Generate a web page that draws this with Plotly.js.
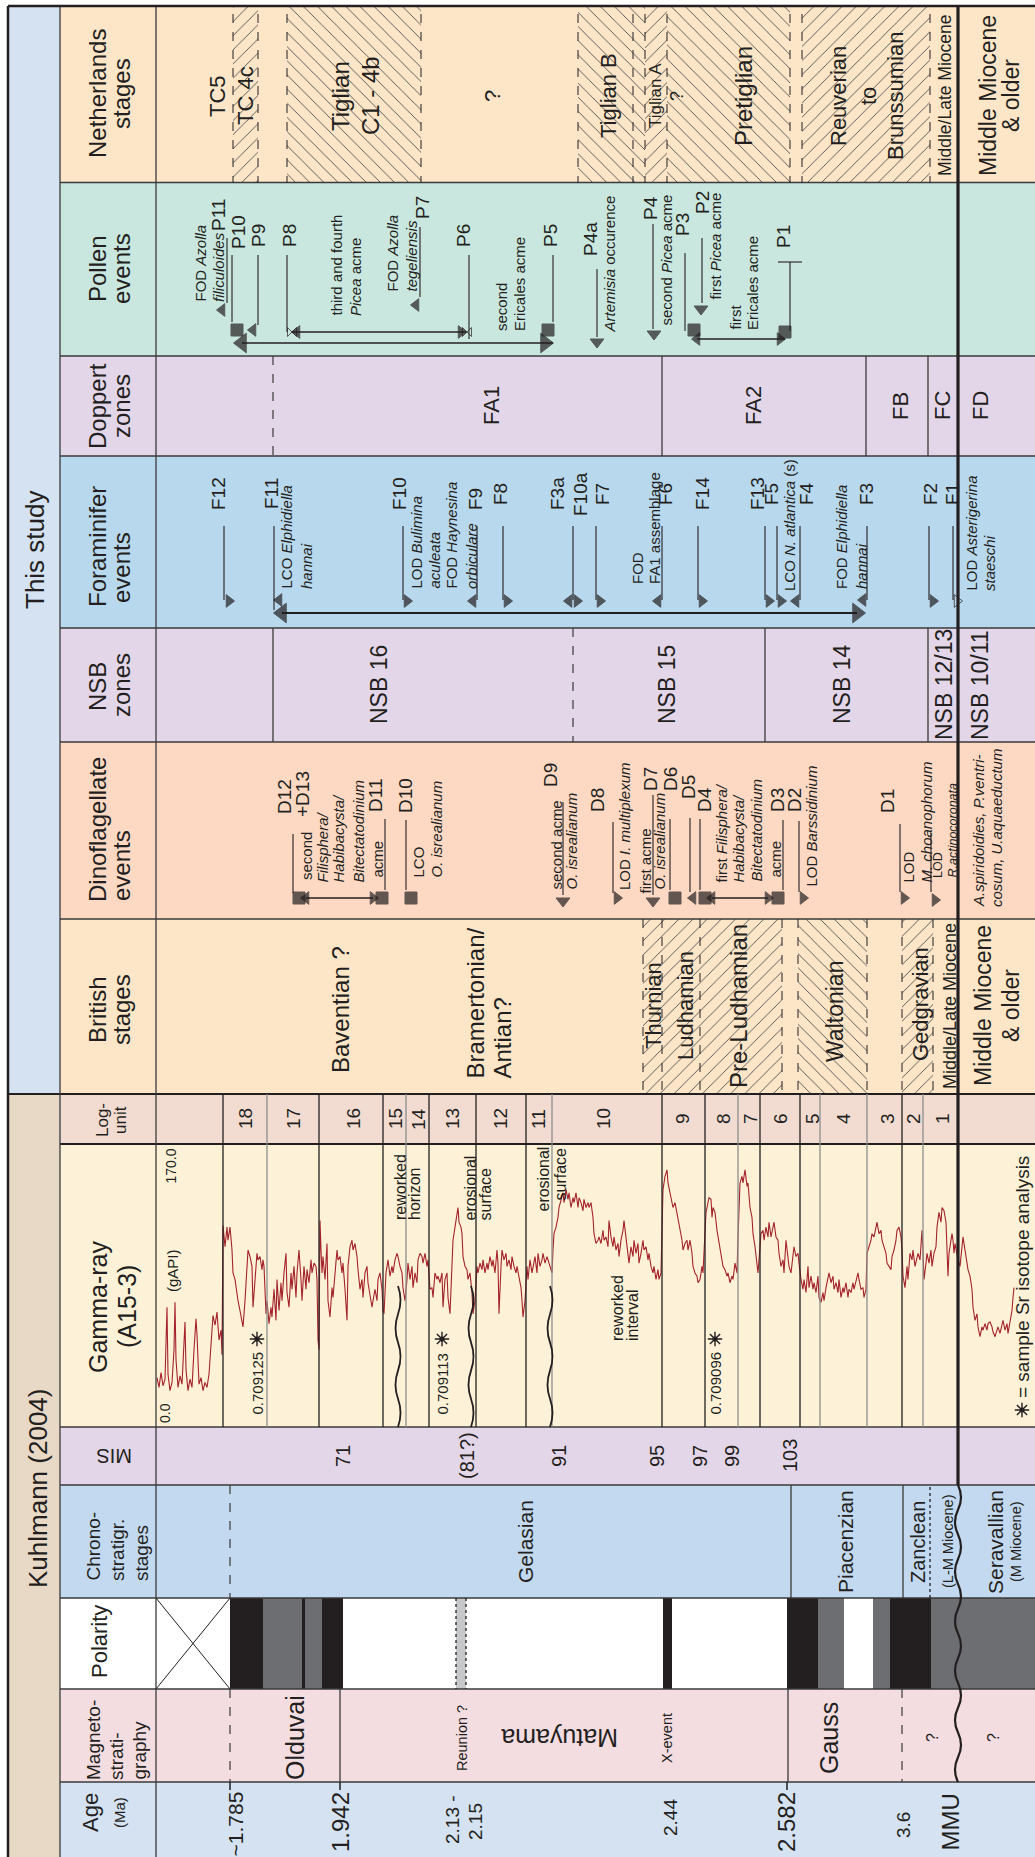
<!DOCTYPE html>
<html>
<head>
<meta charset="utf-8">
<title>Stratigraphic correlation chart</title>
<script src="https://cdn.plot.ly/plotly-3.0.1.min.js"></script>
<style>
html,body{margin:0;padding:0;background:#ffffff;}
#chart{width:1035px;height:1857px;}
</style>
</head>
<body>
<div id="chart"></div>
<script>
/* ===================== DATA ===================== */
/* Positions are along the stratigraphic axis of the section (young -> old),
   expressed in the chart's section units. */

// Netherlands stages
const nlStageText = ['TC5','TC 4c','Tiglian','C1 - 4b','?','Tiglian B','Tiglian A','?','Pretiglian','Reuverian','to','Brunssumian','Middle/Late Miocene','Middle Miocene','& older'];
const nlStagePos  = [217,245,340,370,492,608,655,677,743,838,868,895,945,988,1011];
const nlHatchFrom = [233,287,578,645,667,802];
const nlHatchTo   = [258,421,645,667,790,930];
const nlHatchDir  = ['/','\\','\\','/','\\','/'];
const nlDashed    = [233,258,287,421,578,633,645,667,790,802,930];

// Pollen events
const pollenLabel    = ['P11','P10','P9','P8','P7','P6','P5','P4a','P4','P3','P2','P1'];
const pollenLabelPos = [218,238,258,289,422,463,550,590,650,682,702,783];
const pollenEventPos = [227,232,258,287,420,469,553,597,653,685,702,790];
const pollenText     = ['FOD <i>Azolla</i>','<i>filiculoides</i>','third and fourth','<i>Picea</i> acme','FOD <i>Azolla</i>','<i>tegeliensis</i>','second','Ericales acme','<i>Artemisia</i> occurence','second <i>Picea</i> acme','first <i>Picea</i> acme','first','Ericales acme'];
const pollenTextPos  = [200,218,336,355,392,411,501,519,609,666,715,735,752];
const pollenMarkPos  = [222,237,253,292,297,416,461,467,548,545,242,597,654,694,697,701,785,780];
const pollenMarkKind = ['tl','sq','tl','bow','tl','tl','tr','bow','sq','trB','tlB','td','td','sq','tl','td','sq','tr'];
const pollenRangeFrom = [292,242,697];
const pollenRangeTo   = [466,553,785];

// Doppert zones
const doppertLabel = ['FA1','FA2','FB','FC','FD'];
const doppertPos   = [491,753,900,942,980];
const doppertSolid = [662,866,928];
const doppertDash  = [273];

// Foraminifer events
const foramLabel    = ['F12','F11','F10','F9','F8','F3a','F10a','F7','F6','F14','F13','F5','F4','F3','F2','F1'];
const foramLabelPos = [218,271,399,475,500,557,580,602,665,702,757,771,806,866,930,952];
const foramEventPos = [224,274,403,477,503,573,596,662,698,765,777,800,867,929,953];
const foramText     = ['LCO <i>Elphidiella</i>','<i>hannai</i>','LOD <i>Bulimina</i>','<i>aculeata</i>','FOD <i>Haynesina</i>','<i>orbiculare</i>','FOD','FA1 assemblage','LCO <i>N. atlantica</i> (s)','FOD <i>Elphidiella</i>','<i>hannai</i>','LOD <i>Asterigerina</i>','<i>staeschi</i>'];
const foramTextPos  = [286,306,416,434,451,471,637,654,789,841,861,971,989];
const foramMarkPos  = [229,279,282,407,473,507,569,577,600,658,702,769,781,796,863,857,933,957];
const foramMarkKind = ['tr','tl','tlB','tr','tl','tr','tl','tr','tr','tl','tr','tr','tr','tl','tl','trB','tr','tro'];
const foramRangeFrom = [282];
const foramRangeTo   = [857];

// NSB zones
const nsbLabel = ['NSB 16','NSB 15','NSB 14','NSB 12/13','NSB 10/11'];
const nsbPos   = [379,667,842,944,980];
const nsbSolid = [273,765,928];
const nsbDash  = [573];

// Dinoflagellate events
const dinoLabel    = ['D12','+D13','D11','D10','D9','D8','D7','D6','D5','D4','D3','D2','D1'];
const dinoLabelPos = [284,302,375,405,550,597,650,670,688,704,777,794,887];
const dinoEventPos = [293,385,406,563,613,653,670,690,700,783,799,900,931];
const dinoText     = ['second','<i>Filisphera/</i>','<i>Habibacysta/</i>','<i>Bitectatodinium</i>','acme','LCO','<i>O. isrealianum</i>','second acme','<i>O. isrealianum</i>','LOD <i>I. multiplexum</i>','first acme','<i>O. isrealianum</i>','first <i>Filisphera/</i>','<i>Habibacysta/</i>','<i>Bitectatodinium</i>','acme','LOD <i>Barssidinium</i>','LOD','<i>M. choanophorum</i>','LOD','<i>R.actinocoronata</i>','<i>A.spiridoidies, P.ventri-</i>','<i>cosum, U.aquaeductum</i>'];
const dinoTextPos  = [306,322,338,358,377,418,436,556,571,624,645,659,721,738,756,775,811,908,926,938,952,978,996];
const dinoMarkPos  = [299,306,373,382,411,563,617,653,675,693,705,712,768,778,803,904,935];
const dinoMarkKind = ['sq','tl','tr','sq','sq','td','tr','td','sq','tl','sq','tl','tr','sq','tr','tr','tr'];
const dinoRangeFrom = [306,712];
const dinoRangeTo   = [373,768];

// British stages
const brStageText = ['Baventian ?','Bramertonian/','Antian?','Thurnian','Ludhamian','Pre-Ludhamian','Waltonian','Gedgravian','Middle/Late Miocene','Middle Miocene','& older'];
const brStagePos  = [340,475,502,653,685,738,835,920,950,983,1011];
const brHatchFrom = [643,662,700,798,902];
const brHatchTo   = [662,700,782,867,933];
const brHatchDir  = ['/','/','/','\\','/'];
const brDashed    = [643,662,700,782,798,867,902,933];

// Log-units (A15-3)
const logUnitLabel = ['18','17','16','15','14','13','12','11','10','9','8','7','6','5','4','3','2','1'];
const logUnitPos   = [245,293,353,395,418,452,500,538,603,682,723,750,780,812,843,887,913,942];
const logBoundBlack = [223,319,383,429,476,526,662,705,760,800,902];
const logBoundGrey  = [267,406,552,738,820,867,923];

// Gamma-ray log (A15-3), gAPI, position along the section
const gammaPos = [
 157,159,161,163,165,166,167,168,170,172,174,175,176,178,180,182,184,185,186,188,190,192,194,196,197,199,201,203,205,207,209,211,213,215,217,219,221,222,
 223,225,227,228,230,232,233,235,237,238,240,242,243,245,247,248,250,252,253,255,257,258,260,262,263,264,
 266,267,269,271,272,274,276,277,279,281,282,284,286,287,289,291,292,294,296,297,299,301,302,304,306,307,309,311,312,314,316,317,318,319,
 320,321,322,323,325,327,328,330,332,333,335,337,338,340,342,343,345,347,348,350,352,353,355,357,358,360,362,363,365,367,368,370,372,373,375,377,378,380,382,383,
 384,386,388,390,392,393,395,397,398,400,402,403,405,
 407,408,410,412,413,415,417,418,420,422,423,425,427,428,
 430,432,433,435,437,438,440,442,443,445,447,448,450,452,453,455,457,458,459,461,462,463,465,467,468,470,472,473,475,
 477,478,480,482,483,485,487,488,490,492,493,495,497,498,499,501,502,504,506,507,509,511,512,514,516,517,519,521,522,523,525,
 527,528,530,532,533,535,537,538,540,542,543,545,547,548,550,552,
 553,554,556,558,559,561,563,564,566,568,569,571,573,574,576,578,579,581,583,584,586,588,589,591,593,594,596,598,599,601,603,604,606,608,609,611,613,614,616,618,619,621,623,624,626,628,629,631,633,634,636,638,639,641,643,644,646,648,649,651,653,654,656,658,659,661,
 663,665,667,668,670,672,673,675,677,678,680,682,683,685,687,688,690,692,693,695,697,698,700,702,703,
 705,706,707,709,711,712,713,715,717,718,720,722,723,725,727,728,730,732,733,735,737,
 738,740,742,743,745,747,748,750,752,753,755,757,758,759,
 761,763,764,766,768,769,771,773,774,776,778,779,781,783,784,786,788,789,791,793,794,796,798,799,
 801,803,804,806,808,809,811,813,814,816,818,819,
 821,823,824,826,828,829,831,833,834,836,838,839,841,843,844,846,848,849,851,853,854,856,858,859,861,863,864,866,
 867,869,871,872,874,876,877,879,881,882,884,886,887,889,891,892,894,896,897,899,901,902,
 903,905,907,908,910,912,913,915,917,918,920,922,923,
 924,926,927,929,931,932,934,936,937,939,941,942,944,946,947,948,949,951,952,953,954,955,957,
 958,960,962,963,965,967,968,970,972,973,975,977,978,980,982,983,985,987,988,990,992,993,995,997,998,1000,1002,1003,1005,1007,1008,1010,1012,1013,1014
];
const gammaAPI = [
 29,23,32,24,28,52,72,31,21,26,46,75,40,23,30,25,49,63,34,21,28,23,46,65,55,25,29,21,26,23,31,52,67,61,69,52,58,43,
 122,109,121,113,121,107,93,89,78,76,70,64,60,76,93,107,103,97,72,89,105,101,103,95,101,97,
 68,76,62,72,66,83,64,89,70,87,76,93,105,81,72,93,83,97,78,93,107,89,76,97,83,95,87,101,93,99,97,89,52,46,
 125,107,93,103,89,111,76,66,84,78,93,107,101,103,93,99,83,64,97,109,113,107,111,103,95,83,89,78,93,97,87,78,72,76,83,76,89,93,83,70,
 68,93,101,91,97,93,101,105,103,97,93,84,76,
 89,99,89,97,84,93,87,101,105,103,99,105,97,101,
 83,84,78,93,89,91,87,93,72,89,93,78,68,97,113,121,130,133,124,121,117,103,97,95,89,93,81,68,76,
 97,93,99,95,101,93,99,95,103,97,101,93,107,99,68,97,107,101,105,97,101,95,103,97,93,97,89,84,76,66,76,
 97,89,101,93,97,103,93,105,97,101,105,99,103,101,97,93,
 107,117,121,127,133,138,142,136,144,138,142,133,139,136,142,133,139,136,131,138,133,136,133,136,127,117,111,113,115,111,119,113,115,109,125,115,109,115,107,111,103,113,119,125,113,105,99,109,103,113,105,111,99,105,113,107,109,101,105,97,93,97,89,95,89,93,
 144,152,156,148,142,138,133,136,130,125,119,113,107,111,113,107,113,105,97,93,91,87,89,97,93,
 121,130,133,139,138,127,133,130,119,115,109,101,97,95,91,93,87,91,89,99,93,
 115,148,152,148,156,146,148,133,127,117,109,97,93,101,
 117,119,113,121,115,124,115,121,124,115,113,105,97,101,93,113,103,97,93,107,109,103,105,99,
 89,83,89,81,97,84,91,83,87,81,91,78,
 75,81,76,84,89,93,87,91,83,87,81,89,78,84,81,87,78,83,81,87,83,89,93,89,83,84,78,83,
 105,109,113,117,115,121,124,117,119,113,109,105,99,97,95,103,107,113,119,121,115,107,
 91,84,97,89,105,101,107,97,103,105,101,119,107,
 89,99,105,99,107,97,105,109,121,130,124,133,131,124,101,91,105,113,117,113,105,111,103,
 101,97,107,115,107,97,95,91,83,72,64,68,60,54,60,58,62,58,62,63,60,57,54,58,60,56,62,64,58,62,56,64,70,78,84
];
const gammaScaleText = ['0.0','(gAPI)','170.0'];
const gammaNotes     = ['reworked','horizon','erosional','surface','erosional','surface','reworked','interval'];
const gammaNotesPos  = [400,414,470,485,543,560,617,632];
const erosionPos     = [398,471,550];

// Sr isotope samples
const srPos   = [257,442,715];
const srValue = ['0.709125','0.709113','0.709096'];

// Marine isotope stages
const misLabel = ['71','(81?)','91','95','97','99','103'];
const misPos   = [343,467,559,657,700,732,790];

// Chronostratigraphic stages
const chronoLabel = ['Gelasian','Piacenzian','Zanclean','(L-M Miocene)','Seravallian','(M Miocene)'];
const chronoPos   = [525,845,918,948,995,1016];
const chronoSolid = [791,903];
const chronoDash  = [230];
const chronoDot   = [930];

// Polarity (N = normal, R = reversed, U = grey interval, Q = uncertain, X = no data)
const polFrom = [156,230,263,302,305,322,343,456,466,663,672,787,818,844,873,890,931];
const polTo   = [230,263,302,305,322,343,456,466,663,672,787,818,844,873,890,931,1035];
const polType = ['X','N','U','N','U','N','R','Q','R','N','R','N','U','R','U','N','U'];

// Magnetostratigraphy
const magLabel = ['Olduvai','Reunion ?','Matuyama','X-event','Gauss','?','?'];
const magPos   = [295,462,560,667,829,932,993];
const magSolid = [340,788];
const magDash  = [230,902];

// Ages (Ma)
const ageLabel = ['~1.785','1.942','2.13 -','2.15','2.44','2.582','3.6','MMU'];
const agePos   = [235,340,452,475,670,786,903,950];
const ageTickPos = [230,340,787];

// Mid-Miocene unconformity
const mmuPos = 958;

/* ===================== LAYOUT & STYLE ===================== */
const W = 1035, H = 1857;
const FONT = 'Liberation Sans, Arial, Helvetica, sans-serif';
const NARROW = 'Liberation Sans Narrow, Liberation Sans, Arial Narrow, Arial, sans-serif';
const INK = '#231f20';
const GRID = '#3a3a3a';
const X_GROUP = 8, X_HEAD = 60, X_DATA = 156;

const ROW = {neth:[6,182.5], pollen:[182.5,356], doppert:[356,456], foram:[456,628], nsb:[628,742],
  dino:[742,919], brit:[919,1094], log:[1094,1144], gamma:[1144,1427], mis:[1427,1485],
  chrono:[1485,1598], pol:[1598,1689], mag:[1689,1782], age:[1782,H]};
const COL = {neth:'#fde6c8', pollen:'#c9e7df', doppert:'#e3d6e9', foram:'#b8d8ed', nsb:'#e3d6e9',
  dino:'#fdd9c4', brit:'#fde6c8', log:'#f2dcd1', gamma:'#fdf2d7', mis:'#e3d6e9', chrono:'#c3d9ef',
  pol:'#ffffff', mag:'#f4dde1', age:'#d4e2f2'};
const POLCOL = {N:'#231f20', U:'#6d6e71', R:'#ffffff', Q:'#c7c8ca', X:'#ffffff'};

const nlStageSize = [22,22,24,24,22,22,17,18,24,22,22,22,17.5,23,23];
const brStageSize = [24,24,24,22,22,24,23,22,18,23,23];
const brStageY    = [1010,1080,1080,1006,1006,1006,1012,1004,1006,1006,1006];
const brStageAnchor = ['middle','bottom','bottom','middle','middle','middle','middle','middle','middle','middle','middle'];

const pollenLabelY = [215,232,236,236,208,236,236,239,208,225,203,237];
const pollenLeadY1 = [238,255,255,255,227,255,255,269,224,253,238,262];
const pollenLeadY2 = [303,322,325,332,297,339,322,337,329,331,303,331];
const pollenTextBottom = [303,303,317,317,293,293,332,332,334,327,301,331,331];
const pollenMarkY = [310,330,330,332,332,305,332,332,330,343,343,342,334,330,339,309,332,339];
const pollenRangeY = [332,343,339];

const foramLabelY = [494,494,494,499,494,494,494,494,494,494,494,494,494,494,494,494];
const foramLeadY2 = [600,610,600,600,600,600,600,600,600,600,600,600,600,600,600];
const foramTextBottom = [590,590,590,590,590,590,585,585,592,590,590,592,592];
const foramMarkY = [601,600,613,601,601,601,601,601,601,601,601,601,601,601,600,613,601,601];
const foramRangeY = [613];

const dinoLabelY = [797,794,796,796,775,800,779,779,787,800,800,800,801];
const dinoLeadY1 = [834,819,820,802,822,795,819,818,819,820,821,824,833];
const dinoLeadY2 = [893,890,890,895,893,895,890,892,890,890,892,892,892];
const dinoTextBottom = [881,884,884,884,879,879,879,891,891,891,895,891,884,884,883,879,888,884,884,879,879,908,908];
const dinoTextSize = [15,15,15,15,15,15,15,15,15,15,15,15,15,15,15,15,15,15,15,12.5,12.5,15,15];
const dinoMarkY = [898,898,898,898,898,901,898,901,898,898,898,898,898,898,898,898,900];
const dinoRangeY = [898,898];

const SYM = {tl:'triangle-left', tr:'triangle-right', td:'triangle-down', sq:'square', bow:'bowtie-open',
  tlB:'triangle-left', trB:'triangle-right', tro:'triangle-right-open'};
const SYMSIZE = {tl:11, tr:11, td:12, sq:12, bow:9, tlB:17, trB:17, tro:11};

/* ===================== BUILD ===================== */
const shapes = [], annotations = [], traces = [];
const mid = r => (r[0] + r[1]) / 2;

function R(x0, y0, x1, y1, fill, layer) {
  shapes.push({type:'rect', xref:'x', yref:'y', x0, y0, x1, y1, fillcolor:fill, line:{width:0}, layer:layer || 'below'});
}
function L(x0, y0, x1, y1, color, width, dash) {
  shapes.push({type:'line', xref:'x', yref:'y', x0, y0, x1, y1, line:{color:color || GRID, width:width || 1.3, dash:dash || 'solid'}, layer:'above'});
}
function T(x, y, text, size, o) {
  o = o || {};
  annotations.push({x, y, xref:'x', yref:'y', text, showarrow:false,
    textangle: (o.angle === undefined ? -90 : o.angle),
    xanchor: o.xa || 'center', yanchor: o.ya || 'middle', align: o.align || 'center',
    borderpad: 0, font: {family: o.family || FONT, size: size, color: o.color || INK}});
}
function wavy(x, y0, y1, amp, period, width) {
  const n = Math.max(1, Math.round((y1 - y0) / (period / 2)));
  const step = (y1 - y0) / n;
  let d = 'M' + x + ',' + y0;
  for (let i = 0; i < n; i++) {
    const ya = y0 + i * step, s = (i % 2 === 0) ? 1 : -1;
    d += ' Q' + (x + s * amp * 2) + ',' + (ya + step / 2) + ' ' + x + ',' + (ya + step);
  }
  shapes.push({type:'path', xref:'x', yref:'y', path:d, line:{color:INK, width:width || 1.8}, layer:'above'});
}
const marks = {x:[], y:[], symbol:[], size:[]};
function M(x, y, kind) { marks.x.push(x); marks.y.push(y); marks.symbol.push(SYM[kind]); marks.size.push(SYMSIZE[kind]); }

function hatch(row, from, to, dirs) {
  const g = {};
  from.forEach((f, i) => {
    const d = dirs[i];
    if (!g[d]) g[d] = {x:[], base:[], y:[], w:[]};
    g[d].x.push(to[i] - f); g[d].base.push(f); g[d].y.push(mid(ROW[row])); g[d].w.push(ROW[row][1] - ROW[row][0]);
  });
  Object.keys(g).forEach(d => {
    traces.push({type:'bar', orientation:'h', x:g[d].x, base:g[d].base, y:g[d].y, width:g[d].w,
      xaxis:'x', yaxis:'y', hoverinfo:'skip', showlegend:false,
      marker:{color:COL[row], line:{width:0},
        pattern:{shape:d, fgcolor:'#4d4d4d', bgcolor:COL[row], size:10, solidity:0.09, fillmode:'replace'}}});
  });
}

// ---- background bands ----
Object.keys(ROW).forEach(k => R(X_HEAD, ROW[k][0], W, ROW[k][1], COL[k]));
R(X_GROUP, ROW.neth[0], X_HEAD, ROW.brit[1], '#d4e2f2');
R(X_GROUP, ROW.log[0], X_HEAD, H, '#e8d8c6');

// ---- polarity blocks ----
polFrom.forEach((f, i) => R(f, ROW.pol[0], polTo[i], ROW.pol[1], POLCOL[polType[i]]));

// ---- hatching ----
hatch('neth', nlHatchFrom, nlHatchTo, nlHatchDir);
hatch('brit', brHatchFrom, brHatchTo, brHatchDir);

// ---- frame and grid ----
['pollen','doppert','foram','nsb','dino','brit','gamma','mis','chrono','pol','mag','age'].forEach(k => L(X_HEAD, ROW[k][0], W, ROW[k][0], GRID, 1.3));
L(X_GROUP, ROW.log[0], W, ROW.log[0], INK, 2);
L(X_HEAD, ROW.gamma[0], W, ROW.gamma[0], INK, 1.8);
L(X_HEAD, 6, X_HEAD, H, GRID, 1.3);
L(X_DATA, 6, X_DATA, H, GRID, 1.3);
L(X_GROUP, 6, W, 6, INK, 2.5);
L(X_GROUP, 6, X_GROUP, H, INK, 2.5);

// Netherlands / British dashed stage borders
nlDashed.forEach(x => L(x, ROW.neth[0] + 8, x, ROW.neth[1], INK, 1, 'dash'));
brDashed.forEach(x => L(x, ROW.brit[0], x, ROW.brit[1] - 2, INK, 1, 'dash'));

// zone boundaries
doppertSolid.forEach(x => L(x, ROW.doppert[0], x, ROW.doppert[1], GRID, 1.3));
doppertDash.forEach(x => L(x, ROW.doppert[0], x, ROW.doppert[1], GRID, 1.2, 'dash'));
nsbSolid.forEach(x => L(x, ROW.nsb[0], x, ROW.nsb[1], GRID, 1.3));
nsbDash.forEach(x => L(x, ROW.nsb[0], x, ROW.nsb[1], GRID, 1.2, 'dash'));
logBoundBlack.forEach(x => L(x, ROW.log[0], x, ROW.gamma[1], INK, 1.3));
logBoundGrey.forEach(x => L(x, ROW.log[0], x, ROW.gamma[1], '#8d8d8d', 1.3));
chronoSolid.forEach(x => L(x, ROW.chrono[0], x, ROW.chrono[1], GRID, 1.3));
chronoDash.forEach(x => L(x, ROW.chrono[0], x, ROW.chrono[1], GRID, 1.2, 'dash'));
chronoDot.forEach(x => L(x, ROW.chrono[0] + 2, x, ROW.chrono[1], INK, 1.3, 'dot'));
magSolid.forEach(x => L(x, ROW.mag[0], x, ROW.mag[1], GRID, 1.3));
magDash.forEach(x => L(x, ROW.mag[0], x, ROW.mag[1], GRID, 1.2, 'dash'));
ageTickPos.forEach(x => L(x, ROW.age[0], x, ROW.age[0] + 8, INK, 1.5));

// polarity details
L(polFrom[0], ROW.pol[0], polTo[0], ROW.pol[1], INK, 1);
L(polFrom[0], ROW.pol[1], polTo[0], ROW.pol[0], INK, 1);
polType.forEach((t, i) => { if (t === 'Q') { L(polFrom[i], ROW.pol[0], polFrom[i], ROW.pol[1], INK, 1.3, 'dot'); L(polTo[i], ROW.pol[0], polTo[i], ROW.pol[1], INK, 1.3, 'dot'); } });

// MMU
L(mmuPos, 6, mmuPos, ROW.mis[1], INK, 3.2);
wavy(mmuPos, ROW.mis[1], ROW.mag[1], 3, 50, 2.2);

// erosional surfaces in the gamma-ray column
erosionPos.forEach(x => wavy(x, 1286, ROW.gamma[1], 2.5, 56, 1.8));

// ---- header strip ----
T(35, mid([6, ROW.brit[1]]), 'This study', 26);
T(38, 1489, 'Kuhlmann (2004)', 26);
const HEAD = [
  ['Netherlands',97,94,24,'middle'], ['stages',121,94,24,'middle'],
  ['Pollen',97,269,24,'middle'], ['events',121,269,24,'middle'],
  ['Doppert',97,406,24,'middle'], ['zones',121,406,24,'middle'],
  ['Foraminifer',97,547,24,'middle'], ['events',121,568,24,'middle'],
  ['NSB',97,687,24,'middle'], ['zones',121,685,24,'middle'],
  ['Dinoflagellate',97,830,24,'middle'], ['events',121,866,24,'middle'],
  ['British',97,1010,24,'middle'], ['stages',121,1010,24,'middle'],
  ['Log-',102,1120,17,'middle'], ['unit',120,1120,17,'middle'],
  ['Gamma-ray',98,1307,25,'middle'], ['(A15-3)',127,1307,25,'middle'],
  ['Chrono-',93,1582,19,'bottom'], ['stratigr.',117,1582,19,'bottom'], ['stages',141,1582,19,'bottom'],
  ['Polarity',99,1642,22,'middle'],
  ['Magneto-',93,1781,19,'bottom'], ['strati-',116,1781,19,'bottom'], ['graphy',139,1781,19,'bottom'],
  ['Age',90,1813,22,'middle'], ['(Ma)',119,1813,15,'middle']
];
HEAD.forEach(h => T(h[1], h[2], h[0], h[3], {ya:h[4]}));
T(114, mid(ROW.mis), 'MIS', 20, {angle:180});

// ---- Netherlands stages ----
nlStageText.forEach((t, i) => T(nlStagePos[i], 96, t, nlStageSize[i]));

// ---- Pollen events ----
pollenLabel.forEach((t, i) => T(pollenLabelPos[i], pollenLabelY[i], t, 19));
pollenEventPos.forEach((x, i) => L(x, pollenLeadY1[i], x, pollenLeadY2[i], INK, 1.1));
L(778, 262, 802, 262, INK, 1.1);
pollenText.forEach((t, i) => T(pollenTextPos[i], pollenTextBottom[i], t, 15, {ya:'bottom'}));
pollenMarkPos.forEach((x, i) => M(x, pollenMarkY[i], pollenMarkKind[i]));
pollenRangeFrom.forEach((x, i) => L(x, pollenRangeY[i], pollenRangeTo[i], pollenRangeY[i], INK, 1.6));

// ---- Doppert zones ----
doppertLabel.forEach((t, i) => T(doppertPos[i], mid(ROW.doppert), t, 22));

// ---- Foraminifer events ----
foramLabel.forEach((t, i) => T(foramLabelPos[i], foramLabelY[i], t, 19));
foramEventPos.forEach((x, i) => L(x, 526, x, foramLeadY2[i], INK, 1.1));
foramText.forEach((t, i) => T(foramTextPos[i], foramTextBottom[i], t, 15, {ya:'bottom'}));
foramMarkPos.forEach((x, i) => M(x, foramMarkY[i], foramMarkKind[i]));
foramRangeFrom.forEach((x, i) => L(x, foramRangeY[i], foramRangeTo[i], foramRangeY[i], INK, 2));

// ---- NSB zones ----
nsbLabel.forEach((t, i) => T(nsbPos[i], mid(ROW.nsb), t, 23));

// ---- Dinoflagellate events ----
dinoLabel.forEach((t, i) => T(dinoLabelPos[i], dinoLabelY[i], t, 19));
dinoEventPos.forEach((x, i) => L(x, dinoLeadY1[i], x, dinoLeadY2[i], INK, 1.1));
dinoText.forEach((t, i) => T(dinoTextPos[i], dinoTextBottom[i], t, dinoTextSize[i], {ya:'bottom'}));
dinoMarkPos.forEach((x, i) => M(x, dinoMarkY[i], dinoMarkKind[i]));
dinoRangeFrom.forEach((x, i) => L(x, dinoRangeY[i], dinoRangeTo[i], dinoRangeY[i], INK, 1.6));

// ---- British stages ----
brStageText.forEach((t, i) => T(brStagePos[i], brStageY[i], t, brStageSize[i], {ya:brStageAnchor[i]}));

// ---- Log units ----
logUnitLabel.forEach((t, i) => T(logUnitPos[i], mid(ROW.log), t, 19, {angle:-90}));

// ---- Gamma-ray column texts ----
T(165, 1424, gammaScaleText[0], 14, {ya:'bottom', family:NARROW});
T(172, 1271, gammaScaleText[1], 15, {family:NARROW});
T(170, 1185, gammaScaleText[2], 14, {ya:'bottom', family:NARROW});
const noteBottom = [1221,1221,1222,1222,1213,1202,1342,1342];
gammaNotes.forEach((t, i) => T(gammaNotesPos[i], noteBottom[i], t, 16, {ya:'bottom', family:NARROW}));
srPos.forEach((x, i) => T(x, 1416, srValue[i], 15, {ya:'bottom', family:NARROW}));
T(1022, 1399, '= sample Sr isotope analysis', 19, {ya:'bottom'});

// ---- MIS ----
misLabel.forEach((t, i) => T(misPos[i], mid(ROW.mis), t, 20));

// ---- Chronostratigraphy ----
const chronoSize = [21,21,20,14.5,21,14.5];
chronoLabel.forEach((t, i) => T(chronoPos[i], 1542, t, chronoSize[i]));

// ---- Magnetostratigraphy ----
const magSize = [25,14.5,25,14.5,25,16,16];
const magAngle = [-90,-90,180,-90,-90,-90,-90];
magLabel.forEach((t, i) => T(magPos[i], 1738, t, magSize[i], {angle:magAngle[i], family:(magSize[i] < 15 ? NARROW : FONT)}));

// ---- Ages ----
const ageSize = [21,24,19,19,19,24,19,24];
const ageY = [1791,1791,1820,1822,1818,1791,1825,1793];
const ageAnchor = ['top','top','middle','middle','middle','top','middle','top'];
ageLabel.forEach((t, i) => T(agePos[i], ageY[i], t, ageSize[i], {ya:ageAnchor[i]}));

// ---- event markers trace ----
traces.push({type:'scatter', mode:'markers', x:marks.x, y:marks.y, xaxis:'x', yaxis:'y',
  hoverinfo:'skip', showlegend:false, cliponaxis:false,
  marker:{color:INK, symbol:marks.symbol, size:marks.size, line:{color:INK, width:1}}});

// ---- Sr sample stars ----
const starX = srPos.concat([1022]);
const starY = srPos.map(() => 1339).concat([1410]);
traces.push({type:'scatter', mode:'markers', x:starX, y:starY, xaxis:'x', yaxis:'y', hoverinfo:'skip', showlegend:false,
  marker:{symbol:'asterisk-open', size:12, color:INK, line:{color:INK, width:1.4}}});
traces.push({type:'scatter', mode:'markers', x:starX, y:starY, xaxis:'x', yaxis:'y', hoverinfo:'skip', showlegend:false,
  marker:{symbol:'circle', size:5, color:INK}});

// ---- gamma-ray curve ----
traces.push({type:'scatter', mode:'lines', x:gammaPos, y:gammaAPI, xaxis:'x', yaxis:'y2',
  hoverinfo:'skip', showlegend:false, line:{color:'#a4232b', width:1.1}});

const GAMMA_ZERO_PX = 1425, GAMMA_MAX_PX = 1147;
const layout = {
  width:W, height:H, margin:{l:0, r:0, t:0, b:0},
  paper_bgcolor:'#ffffff', plot_bgcolor:'rgba(0,0,0,0)',
  showlegend:false, hovermode:false, barmode:'overlay',
  xaxis:{range:[0, W], visible:false, fixedrange:true},
  yaxis:{range:[H, 0], visible:false, fixedrange:true},
  yaxis2:{range:[0, 170], domain:[1 - GAMMA_ZERO_PX / H, 1 - GAMMA_MAX_PX / H], anchor:'x', visible:false, fixedrange:true},
  shapes:shapes, annotations:annotations
};
Plotly.newPlot('chart', traces, layout, {staticPlot:true, displayModeBar:false});
</script>
</body>
</html>
